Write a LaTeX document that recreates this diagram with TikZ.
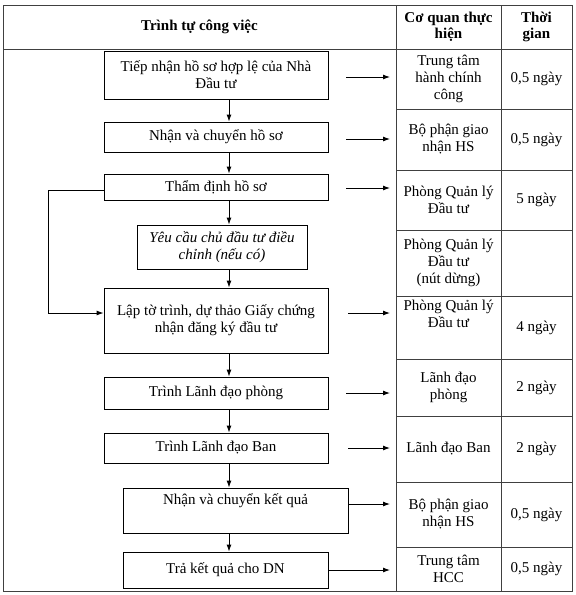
\documentclass[tikz,border=0pt]{standalone}
\usepackage{fontspec}
\setmainfont{Liberation Serif}
\usetikzlibrary{calc,positioning,arrows.meta}

\begin{document}
\begin{tikzpicture}[>={Latex[length=7pt,width=5pt]}, x=1pt, y=-1pt]

	\tikzset{
		step box/.style={draw=black, line width=0.9pt, align=center, inner sep=1pt},
		cell/.style={align=center, inner sep=0pt},
		grid line/.style={draw=black!75, line width=0.9pt},
		link/.style={->, line width=0.9pt},
		every node/.style={font=\fontsize{15}{17}\selectfont}
	}

	\useasboundingbox (0,0) rectangle (576,595);

	% table frame
	\draw[grid line] (3,5) rectangle (572,591);
	\draw[grid line] (3,49) -- (572,49);
	\foreach \x in {396,501} {
			\draw[grid line] (\x,5) -- (\x,591);
		}
	\foreach \y in {109,170,230,296,359,416,482,547} {
			\draw[grid line] (396,\y) -- (572,\y);
		}

	% header
	\node[cell, font=\fontsize{15}{17}\selectfont\bfseries] (h1) at (199.5,27) {Trình tự công việc};
	\node[cell, font=\fontsize{15}{16}\selectfont\bfseries] (h2) at (448.5,27) {Cơ quan thực\\hiện};
	\node[cell, font=\fontsize{15}{16}\selectfont\bfseries] (h3) at (536.5,27) {Thời\\gian};

	% steps
	\node[step box, minimum width=224pt, minimum height=48pt] (b1) at (216,75) {Tiếp nhận hồ sơ hợp lệ của Nhà\\Đầu tư};
	\node[step box, minimum width=224pt, minimum height=30pt] (b2) at (216,137) {Nhận và chuyển hồ sơ};
	\node[step box, minimum width=224pt, minimum height=26pt] (b3) at (216,187) {Thẩm định hồ sơ};
	\node[step box, minimum width=170pt, minimum height=44pt, font=\fontsize{15}{16.5}\selectfont\itshape] (b4) at (222,247) {Yêu cầu chủ đầu tư điều\\chỉnh (nếu có)};
	\node[step box, minimum width=224pt, minimum height=65pt] (b5) at (216,320.5) {Lập tờ trình, dự thảo Giấy chứng\\nhận đăng ký đầu tư};
	\node[step box, minimum width=224pt, minimum height=32pt] (b6) at (216,393) {Trình Lãnh đạo phòng};
	\node[step box, minimum width=224pt, minimum height=30pt] (b7) at (216,448) {Trình Lãnh đạo Ban};
	\node[step box, minimum width=225pt, minimum height=45pt] (b8) at (235.5,510.5) {Nhận và chuyển kết quả\\\strut};
	\node[step box, minimum width=205pt, minimum height=36pt] (b9) at (225.5,570) {Trả kết quả cho DN};

	% who and how long
	\foreach \n/\y/\org/\days in {1/79/{Trung tâm\\hành chính\\công}/{0,5 ngày},
			2/139.5/{Bộ phận giao\\nhận HS}/{0,5 ngày},
			3/200/{Phòng Quản lý\\Đầu tư}/{5 ngày},
			4/263/{Phòng Quản lý\\Đầu tư\\(nút dừng)}/{},
			6/387.5/{Lãnh đạo\\phòng}/{2 ngày},
			7/449/{Lãnh đạo Ban}/{2 ngày},
			8/514.5/{Bộ phận giao\\nhận HS}/{0,5 ngày},
			9/569/{Trung tâm\\HCC}/{0,5 ngày}} {
			\node[cell] (c\n) at (448.5,\y) {\org};
			\node[cell] (t\n) at (536.5,\y) {\days};
		}
	\node[cell] (c5) at (448.5,314) {Phòng Quản lý\\Đầu tư};
	\node[cell] (t5) at (536.5,327.5) {4 ngày};

	% arrows
	\coordinate (ax) at (229,0);
	\coordinate (rx) at (390,0);
	\coordinate (fb) at (48,0);

	\foreach \a/\b in {b1/b2,b2/b3,b3/b4,b4/b5,b5/b6,b6/b7,b7/b8,b8/b9} {
			\draw[link] (\a.south -| ax) -- (\b.north -| ax);
		}

	\foreach \b/\dx/\dy in {b1/18/-2,b2/18/-2,b3/18/-1,b5/20/7.5,b6/18/0,b7/20/0,b8/0/6.5,b9/0/0} {
			\draw[link] ([xshift=\dx pt,yshift=\dy pt]\b.east) -- ([yshift=\dy pt]\b.east -| rx);
		}

	\draw[link] ([yshift=-3pt]b3.west) -- ([yshift=-3pt]b3.west -| fb) |- ([yshift=7.5pt]b5.west);
\end{tikzpicture}
\end{document}
